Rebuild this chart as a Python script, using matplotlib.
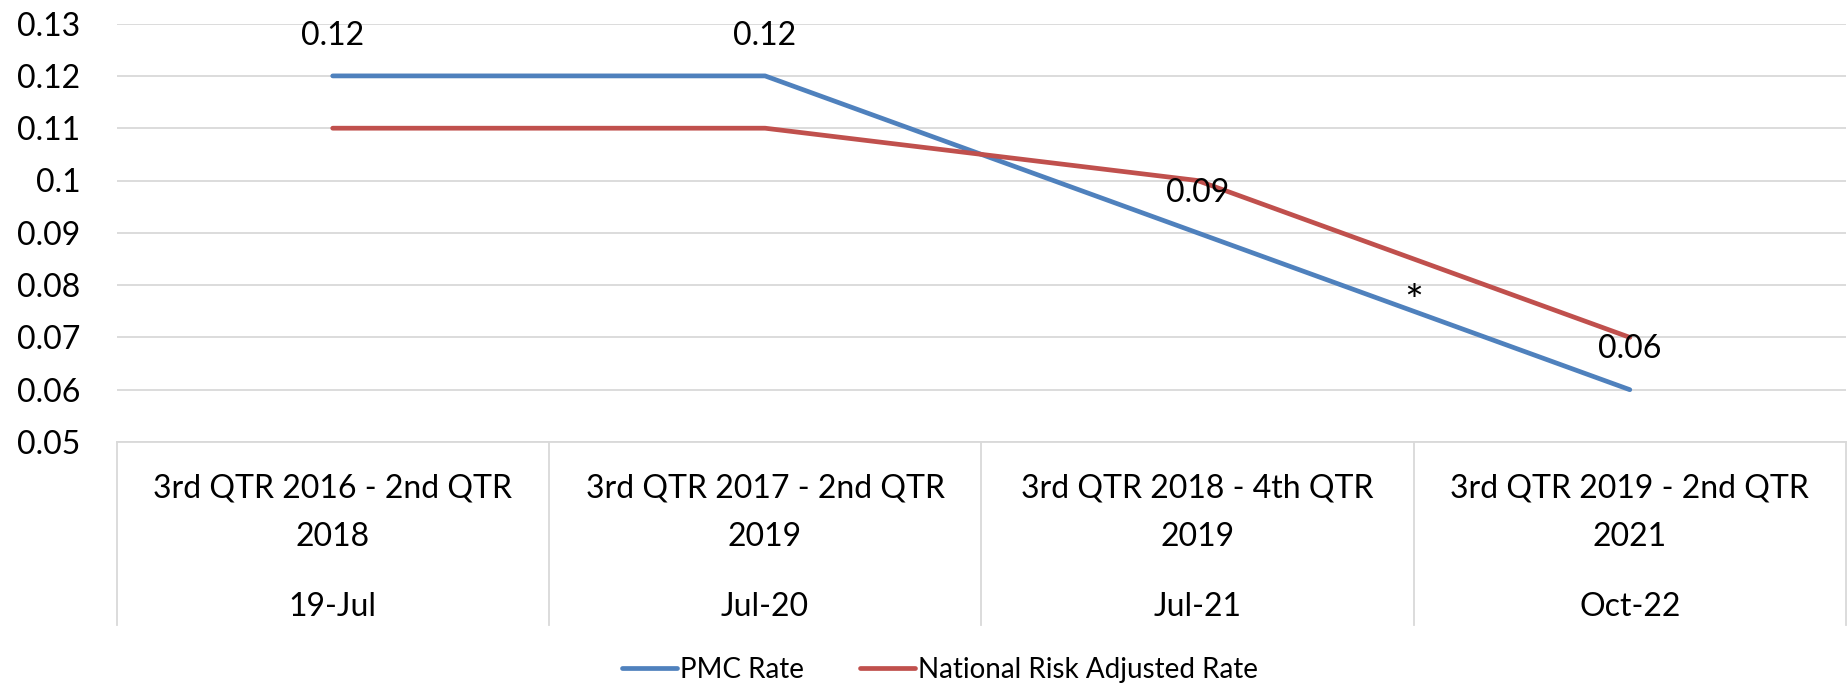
import matplotlib
matplotlib.use("Agg")
import matplotlib.pyplot as plt
import matplotlib.transforms as mtransforms

plt.rcParams['font.family'] = ['Lato', 'DejaVu Sans']

categories = ["3rd QTR 2016 - 2nd QTR\n2018", "3rd QTR 2017 - 2nd QTR\n2019",
              "3rd QTR 2018 - 4th QTR\n2019", "3rd QTR 2019 - 2nd QTR\n2021"]
dates = ["19-Jul", "Jul-20", "Jul-21", "Oct-22"]
pmc_rate = [0.12, 0.12, 0.09, 0.06]
national_rate = [0.11, 0.11, 0.10, 0.07]
pmc_labels = ["0.12", "0.12", "0.09", "0.06"]
yticks = [0.05, 0.06, 0.07, 0.08, 0.09, 0.10, 0.11, 0.12, 0.13]
ytick_labels = ["0.05", "0.06", "0.07", "0.08", "0.09", "0.1", "0.11", "0.12", "0.13"]
asterisk_pos = (2.5, 0.0765)

BLUE = "#4F81BD"
RED = "#C0504D"
GRID = "#D9D9D9"
FS = 23

W, H = 1849, 686
fig = plt.figure(figsize=(W / 100, H / 100), dpi=100)
ax = fig.add_axes([116.5 / W, 1 - 442 / H, (1846 - 116.5) / W, (442 - 23.6) / H])

x = list(range(len(categories)))
ax.plot(x, pmc_rate, color=BLUE, lw=3.4, solid_capstyle='round', label="PMC Rate", zorder=3)
ax.plot(x, national_rate, color=RED, lw=3.4, solid_capstyle='round', label="National Risk Adjusted Rate", zorder=3)

ax.set_xlim(-0.5, len(categories) - 0.5)
ax.set_ylim(yticks[0], yticks[-1])
ax.set_yticks(yticks)
ax.set_yticklabels(ytick_labels)
ax.tick_params(axis='y', length=0, pad=26, labelsize=FS)
ax.set_xticks([])
for s in ax.spines.values():
    s.set_visible(False)
ax.yaxis.grid(True, color=GRID, lw=1.3)
ax.set_axisbelow(True)

for xi, yi, lab in zip(x, pmc_rate, pmc_labels):
    ax.annotate(lab, (xi, yi), xytext=(0, 29), textcoords='offset points',
                ha='center', va='center', fontsize=FS)

ax.text(asterisk_pos[0], asterisk_pos[1], "*", ha='center', va='center', fontsize=32)

# multi-level category axis
trans = mtransforms.blended_transform_factory(ax.transData, ax.transAxes)
ah = 442 - 23.6
box_bottom = -(625 - 442) / ah
for b in [i - 0.5 for i in range(len(categories) + 1)]:
    ax.plot([b, b], [0, box_bottom], transform=trans, color=GRID, lw=1.3, clip_on=False)
ax.plot([-0.5, len(categories) - 0.5], [0, 0], transform=trans, color=GRID, lw=1.3, clip_on=False)

for xi, cat, d in zip(x, categories, dates):
    ax.text(xi, -((513 - 442) / ah), cat, transform=trans, ha='center', va='center',
            fontsize=FS, linespacing=1.75)
    ax.text(xi, -((607 - 442) / ah), d, transform=trans, ha='center', va='center', fontsize=FS)

fig.legend(loc='center', bbox_to_anchor=(940 / W, 1 - 670 / H), ncol=2, frameon=False,
           fontsize=20, handlelength=2.0, handletextpad=0.1, columnspacing=2.0)

fig.savefig("out.png", dpi=100)
